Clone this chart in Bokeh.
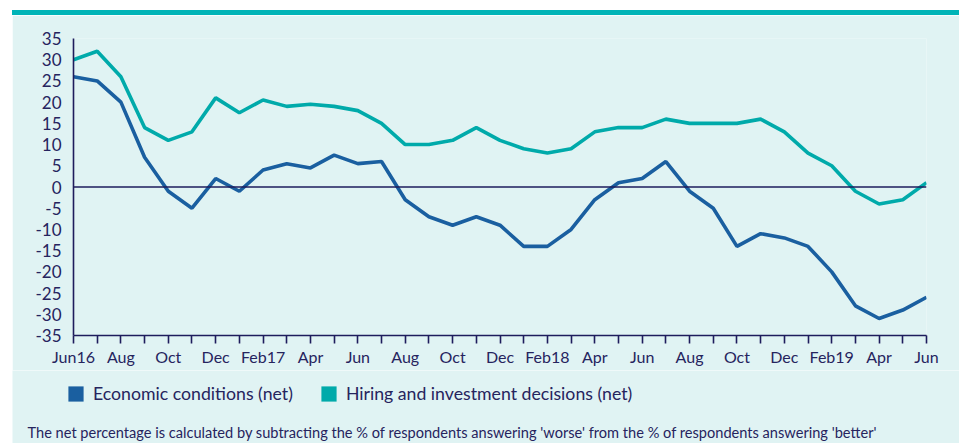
from bokeh.plotting import figure
from bokeh.models import (Range1d, FixedTicker, Span, Legend, LegendItem, Label,
                          ColumnDataSource, Div)
from bokeh.layouts import column
from bokeh.embed import file_html
from bokeh.resources import INLINE

months = list(range(37))  # Jun 2016 .. Jun 2019, monthly
tick_labels = ["Jun16", "Aug", "Oct", "Dec", "Feb17", "Apr", "Jun", "Aug", "Oct",
               "Dec", "Feb18", "Apr", "Jun", "Aug", "Oct", "Dec", "Feb19", "Apr", "Jun"]
y_ticks = list(range(-35, 36, 5))

economic = [26, 25, 20, 7, -1, -5, 2, -1, 4, 5.5, 4.5, 7.5, 5.5, 6, -3, -7, -9, -7, -9,
            -14, -14, -10, -3, 1, 2, 6, -1, -5, -14, -11, -12, -14, -20, -28, -31, -29, -26]
hiring = [30, 32, 26, 14, 11, 13, 21, 17.5, 20.5, 19, 19.5, 19, 18, 15, 10, 10, 11, 14, 11,
          9, 8, 9, 13, 14, 14, 16, 15, 15, 15, 16, 13, 8, 5, -1, -4, -3, 1]

series_names = ["Economic conditions (net)", "Hiring and investment decisions (net)"]
footnote = ("The net percentage is calculated by subtracting the % of respondents "
            "answering 'worse' from the % of respondents answering 'better'")

BG = "#e0f3f3"
NAVY = "#1e1c5c"
TEXT = "#26245e"
BLUE = "#1a5fa0"
TEAL = "#00aaaa"
BAR = "#00b4b7"
FONT = "Lato"
W = 947

p = figure(width=W, height=355, x_range=Range1d(0, 36), y_range=Range1d(-35, 35),
           output_backend="svg", toolbar_location=None,
           min_border_left=61, min_border_right=33, min_border_top=23, min_border_bottom=35,
           background_fill_color=BG, border_fill_color=BG, outline_line_color=None,
           margin=(0, 0, 0, 12))
p.frame_align = False
p.grid.visible = False

# axes
xa = p.xaxis[0]
xa.ticker = FixedTicker(ticks=months)
xa.major_label_overrides = {m: (tick_labels[m // 2] if m % 2 == 0 else "") for m in months}
xa.axis_line_color = NAVY
xa.axis_line_width = 1.6
xa.major_tick_line_color = NAVY
xa.major_tick_line_width = 1.6
xa.major_tick_in = 0
xa.major_tick_out = 8
xa.minor_tick_line_color = None
xa.major_label_standoff = 3
xa.major_label_text_font = FONT
xa.major_label_text_font_size = "16px"
xa.major_label_text_color = TEXT

ya = p.yaxis[0]
ya.ticker = FixedTicker(ticks=y_ticks)
ya.major_label_overrides = {t: str(t) for t in y_ticks}
ya.axis_line_color = NAVY
ya.axis_line_width = 1.6
ya.major_tick_line_color = None
ya.major_tick_in = 0
ya.major_tick_out = 0
ya.minor_tick_line_color = None
ya.major_label_standoff = 12
ya.major_label_text_font = FONT
ya.major_label_text_font_size = "17px"
ya.major_label_text_color = TEXT

p.add_layout(Span(location=0, dimension="width", line_color=NAVY, line_width=1.6))

src = ColumnDataSource(dict(m=months, econ=economic, hire=hiring))
p.line("m", "hire", source=src, line_color=TEAL, line_width=3.6)
p.line("m", "econ", source=src, line_color=BLUE, line_width=3.6)

# lower panel: legend and footnote
q = figure(width=W, height=73, x_range=Range1d(0, 1), y_range=Range1d(0, 1),
           output_backend="svg", toolbar_location=None,
           x_axis_location=None, y_axis_location=None,
           min_border_left=0, min_border_right=0, min_border_top=0, min_border_bottom=0,
           background_fill_color=BG, border_fill_color=BG, outline_line_color=None,
           margin=(0, 0, 0, 12))
q.frame_align = False
q.grid.visible = False

nan = float("nan")
swatch = ColumnDataSource(dict(l=[nan], r=[nan], b=[nan], t=[nan]))
sw1 = q.quad(left="l", right="r", bottom="b", top="t", source=swatch,
             fill_color=BLUE, line_color=None)
sw2 = q.quad(left="l", right="r", bottom="b", top="t", source=swatch,
             fill_color=TEAL, line_color=None)

legend = Legend(items=[LegendItem(label=series_names[0], renderers=[sw1]),
                       LegendItem(label=series_names[1], renderers=[sw2])],
                orientation="horizontal", location=(54, 39),
                glyph_width=19, glyph_height=19, label_standoff=8, spacing=26,
                padding=0, margin=0, border_line_color=None, background_fill_alpha=0,
                label_text_font=FONT, label_text_font_size="17.7px", label_text_color=TEXT)
q.add_layout(legend, "center")

q.add_layout(Label(x=15, y=11, x_units="screen", y_units="screen", text=footnote,
                   text_font=FONT, text_font_size="14.6px", text_color=TEXT,
                   text_baseline="middle"))

bar = Div(text="", width=W, height=5, margin=(10, 0, 0, 12),
          styles={"background-color": BAR})

layout = column(bar, p, q, spacing=0)

with open("out.html", "w") as f:
    f.write(file_html(layout, INLINE))
